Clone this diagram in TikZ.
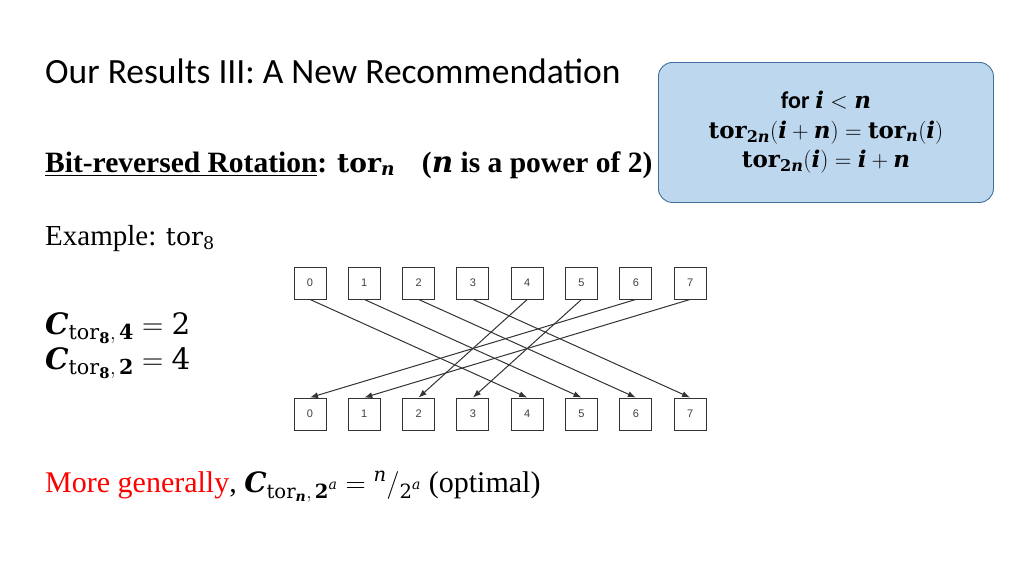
\RequirePackage{fix-cm}
\documentclass[tikz,border=0pt]{standalone}
\usepackage{amsmath}
\usepackage{fontspec}
\setmainfont{Liberation Serif}
\newfontfamily\titlefont{Carlito}
\newfontfamily\cellfont{Liberation Sans}
\newfontfamily\mathlike{DejaVu Serif}
\usetikzlibrary{positioning,arrows.meta}

% Cambria-like pieces inside formulas
\newcommand{\dv}[1]{\text{\mathlike\mdseries\upshape #1}}
\newcommand{\dvb}[1]{\text{\mathlike\bfseries\upshape #1}}
\newcommand{\dvbi}[1]{\text{\mathlike\bfseries\itshape #1}}
\newcommand{\dvi}[1]{\text{\mathlike\mdseries\itshape #1}}

\definecolor{boxfill}{RGB}{189,215,238}
\definecolor{boxline}{RGB}{65,113,156}
\definecolor{moretext}{RGB}{255,0,0}

\tikzset{
  cell/.style={draw=black!80, line width=0.9pt, minimum size=32pt, inner sep=0pt,
    font=\cellfont\fontsize{11}{13}\selectfont, text=black!75},
  link/.style={-{Latex[length=8pt,width=6pt]}, line width=1pt, draw=black!80},
  txt/.style={anchor=base west, inner sep=0pt, font=\fontsize{29.5}{34}\selectfont},
  rulerow/.style={anchor=base, inner sep=0pt, font=\fontsize{23}{27}\selectfont}
}

\begin{document}
\begin{tikzpicture}[x=1pt, y=-1pt]
        \useasboundingbox[fill=white] (0,0) rectangle (1024,576);

        % heading and definition
        \node[txt, font=\titlefont\fontsize{35.5}{40}\selectfont] (title) at (45,83) {Our Results III: A New Recommendation};
        \node[txt, font=\fontsize{29.5}{34}\selectfont] (def) at (45,172) {\textbf{\underline{Bit-reversed Rotation}: {\fontsize{26.5}{30}\selectfont$\dvb{tor}_{\dvbi{n}}$}}\hspace{27pt}\textbf{($\dvbi{n}$ is a power of 2)}};

        % recursive rule
        \node[draw=boxline, fill=boxfill, line width=0.9pt, rounded corners=14pt,
          minimum width=335pt, minimum height=140pt, anchor=north west] (rule) at (658,62) {};
        \node[rulerow] (rowa) at (826,108) {{\titlefont\bfseries\fontsize{24}{28}\selectfont for} $\dvbi{i} < \dvbi{n}$};
        \node[rulerow] (rowb) at (826,138) {$\dvb{tor}_{\dvb{2}\dvbi{n}}(\dvbi{i}+\dvbi{n}) = \dvb{tor}_{\dvbi{n}}(\dvbi{i})$};
        \node[rulerow] (rowc) at (826,167) {$\dvb{tor}_{\dvb{2}\dvbi{n}}(\dvbi{i}) = \dvbi{i}+\dvbi{n}$};

        \node[txt, font=\fontsize{29}{34}\selectfont] (example) at (45,245) {Example: {\fontsize{25}{30}\selectfont$\dv{tor}_{\dv{8}}$}};

        \node[txt] (cost4) at (45,334) {$\dvbi{C}_{\dv{tor}_{\dvb{8}},\,\dvb{4}} = \dv{2}$};
        \node[txt] (cost2) at (45,369) {$\dvbi{C}_{\dv{tor}_{\dvb{8}},\,\dvb{2}} = \dv{4}$};

        % the two rows of positions
        \node[cell] (t0) at (310,283) {0};
        \node[cell] (b0) at (310,414) {0};
        \foreach \i [count=\j from 0] in {1,...,7} {
          \node[cell, right=21.4pt of t\j] (t\i) {\i};
          \node[cell, right=21.4pt of b\j] (b\i) {\i};
        }

        \draw[link] (t0.south) -- (b4.north);
        \draw[link] (t1.south) -- (b5.north);
        \draw[link] (t2.south) -- (b6.north);
        \draw[link] (t3.south) -- (b7.north);
        \draw[link] (t4.south) -- (b2.north);
        \draw[link] (t5.south) -- (b3.north);
        \draw[link] (t6.south) -- (b0.north);
        \draw[link] (t7.south) -- (b1.north);

        \node[txt, font=\fontsize{30}{34}\selectfont] (general) at (45,492) {\textcolor{moretext}{More generally}, {\fontsize{28}{32}\selectfont$\dvbi{C}_{\dv{tor}_{\dvbi{n}},\,\dvb{2}^{\dvi{a}}} = {}^{\dvi{n}}/_{\dv{2}^{\dvi{a}}}$} (optimal)};
    \end{tikzpicture}
\end{document}
